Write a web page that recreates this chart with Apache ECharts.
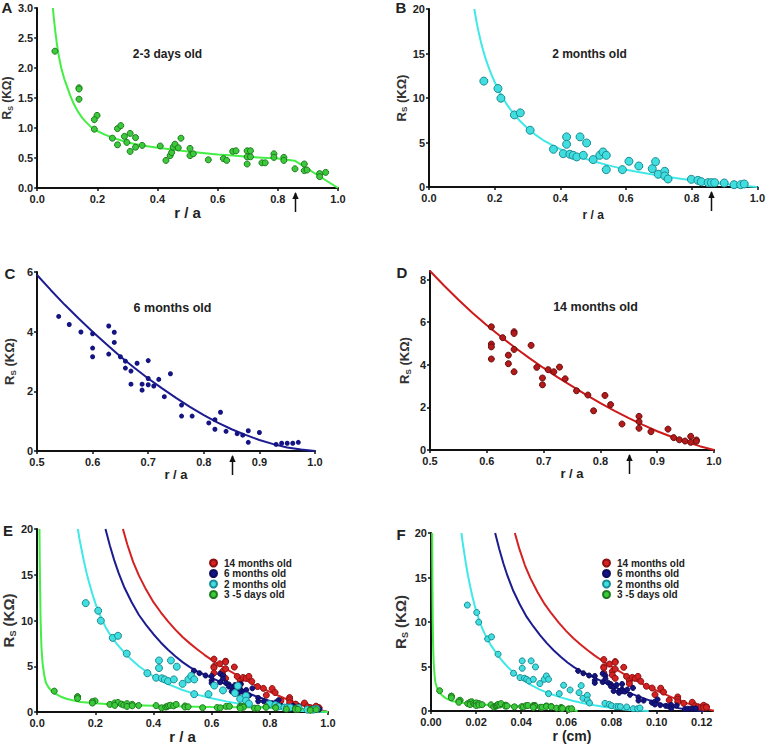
<!DOCTYPE html>
<html><head><meta charset="utf-8">
<script src="https://cdn.jsdelivr.net/npm/echarts@6.0.0/dist/echarts.min.js"></script>
<style>html,body{margin:0;padding:0;background:#fff}#c{width:768px;height:745px}</style>
</head><body><div id="c"></div>
<script>
// ---------- DATA ----------
// Panel A: 2-3 days old (r/a, Rs kOhm)
const days23Points = [[0.059,2.28],[0.139,1.67],[0.139,1.65],[0.139,1.48],[0.199,1.21],[0.19,1.14],[0.19,0.98],[0.25,0.83],[0.267,0.99],[0.278,1.04],[0.267,0.72],[0.29,0.86],[0.298,0.76],[0.309,0.91],[0.309,0.61],[0.327,0.84],[0.327,0.68],[0.349,0.71],[0.409,0.70],[0.428,0.46],[0.442,0.54],[0.447,0.59],[0.452,0.68],[0.458,0.73],[0.469,0.67],[0.478,0.83],[0.508,0.66],[0.508,0.54],[0.519,0.57],[0.569,0.47],[0.619,0.49],[0.63,0.46],[0.65,0.61],[0.661,0.62],[0.698,0.62],[0.709,0.62],[0.698,0.52],[0.709,0.52],[0.698,0.40],[0.747,0.42],[0.758,0.42],[0.787,0.57],[0.787,0.51],[0.82,0.51],[0.82,0.46],[0.857,0.32],[0.888,0.40],[0.888,0.29],[0.897,0.30],[0.939,0.24],[0.939,0.19],[0.959,0.26]];
const days23Fit = [[0.052,3.0],[0.056,2.8],[0.06,2.62],[0.065,2.42],[0.07,2.25],[0.075,2.12],[0.08,2.0],[0.09,1.82],[0.1,1.68],[0.11,1.54],[0.12,1.42],[0.13,1.32],[0.14,1.24],[0.15,1.17],[0.16,1.11],[0.18,1.01],[0.2,0.95],[0.225,0.89],[0.25,0.84],[0.275,0.8],[0.3,0.76],[0.35,0.71],[0.4,0.67],[0.45,0.64],[0.5,0.61],[0.55,0.585],[0.6,0.56],[0.65,0.54],[0.7,0.52],[0.75,0.505],[0.8,0.49],[0.856,0.455],[1.0,0.0]];
// Panel B: 2 months old
const months2Points = [[0.167,11.9],[0.21,11.07],[0.219,9.98],[0.26,8.1],[0.278,8.33],[0.308,6.38],[0.379,4.24],[0.409,3.75],[0.419,5.63],[0.419,4.8],[0.429,3.68],[0.439,3.56],[0.45,3.38],[0.46,5.63],[0.47,3.56],[0.48,4.95],[0.5,3.08],[0.52,3.56],[0.53,3.94],[0.54,3.56],[0.54,1.95],[0.589,1.95],[0.609,2.89],[0.639,2.36],[0.68,2.06],[0.69,2.85],[0.698,1.43],[0.718,1.76],[0.718,1.24],[0.728,0.9],[0.799,0.86],[0.819,0.75],[0.829,0.6],[0.85,0.49],[0.86,0.49],[0.87,0.49],[0.899,0.45],[0.929,0.26],[0.949,0.26],[0.96,0.34]];
const months2Fit = [[0.138,20],[0.144,18.7],[0.15,17.6],[0.155,16.8],[0.16,16.0],[0.17,14.7],[0.18,13.6],[0.19,12.65],[0.2,11.8],[0.21,11.0],[0.22,10.3],[0.235,9.4],[0.25,8.6],[0.275,7.5],[0.3,6.6],[0.325,5.85],[0.35,5.2],[0.375,4.7],[0.4,4.25],[0.45,3.5],[0.5,2.9],[0.55,2.4],[0.6,1.95],[0.65,1.6],[0.7,1.3],[0.75,1.0],[0.8,0.75],[0.85,0.52],[0.9,0.33],[0.95,0.15],[1.0,0]];
// Panel C: 6 months old
const months6Points = [[0.539,4.51],[0.558,4.24],[0.579,3.99],[0.6,3.93],[0.6,3.45],[0.6,3.16],[0.629,4.19],[0.629,3.25],[0.639,3.98],[0.639,3.64],[0.65,3.16],[0.659,3.01],[0.659,2.78],[0.669,2.68],[0.669,2.24],[0.68,2.94],[0.689,2.24],[0.689,2.04],[0.7,3.03],[0.7,2.43],[0.7,2.22],[0.71,2.18],[0.719,2.4],[0.729,1.82],[0.74,2.59],[0.76,1.54],[0.76,1.17],[0.779,1.17],[0.809,0.94],[0.82,1.05],[0.82,0.73],[0.83,1.3],[0.84,0.66],[0.86,0.58],[0.87,0.53],[0.88,0.68],[0.88,0.29],[0.9,0.62],[0.93,0.22],[0.94,0.26],[0.95,0.26],[0.96,0.26],[0.97,0.29]];
const months6Fit = [[0.5,5.9],[0.525,5.39],[0.55,4.9],[0.575,4.44],[0.6,4.0],[0.625,3.58],[0.65,3.17],[0.675,2.79],[0.7,2.43],[0.725,2.1],[0.75,1.78],[0.775,1.48],[0.8,1.2],[0.825,0.95],[0.85,0.73],[0.875,0.54],[0.9,0.37],[0.925,0.23],[0.95,0.12],[0.975,0.05],[1.0,0]];
// Panel D: 14 months old
const months14Points = [[0.608,5.78],[0.608,4.97],[0.608,4.84],[0.608,4.27],[0.628,5.27],[0.638,4.45],[0.638,4.05],[0.648,5.55],[0.648,5.47],[0.648,4.72],[0.648,3.67],[0.678,4.91],[0.688,3.88],[0.698,3.38],[0.698,3.06],[0.708,3.77],[0.718,3.67],[0.728,3.89],[0.738,3.34],[0.758,2.78],[0.778,2.58],[0.788,1.84],[0.808,2.56],[0.818,2.13],[0.838,1.22],[0.868,1.58],[0.868,1.33],[0.868,1.02],[0.889,0.86],[0.919,0.98],[0.929,0.58],[0.939,0.48],[0.949,0.42],[0.959,0.64],[0.959,0.36],[0.969,0.47],[0.969,0.41]];
const months14Fit = [[0.5,8.4],[0.525,7.71],[0.55,7.05],[0.575,6.43],[0.6,5.85],[0.625,5.31],[0.65,4.8],[0.675,4.31],[0.7,3.85],[0.725,3.41],[0.75,3.0],[0.775,2.59],[0.8,2.2],[0.825,1.84],[0.85,1.5],[0.875,1.18],[0.9,0.88],[0.925,0.62],[0.95,0.38],[0.975,0.18],[1.0,0]];
// Panel E: fits on a common 0-20 scale
const combDaysFit = [[0.008,20],[0.009,16.5],[0.01,14],[0.011,11.8],[0.012,10],[0.0135,8.3],[0.015,7],[0.0175,5.8],[0.02,5],[0.025,3.9],[0.03,3.2],[0.04,2.65],[0.05,2.3],[0.065,1.95],[0.08,1.7],[0.1,1.45],[0.125,1.25],[0.15,1.1],[0.2,0.95],[0.25,0.84],[0.3,0.76],[0.4,0.67],[0.5,0.61],[0.6,0.56],[0.7,0.52],[0.8,0.49],[0.856,0.455],[1.0,0]];
const comb2mFit = [[0.14,20],[0.145,19.0],[0.15,18.2],[0.155,17.4],[0.16,16.6],[0.17,15.2],[0.18,14.0],[0.19,12.9],[0.2,11.9],[0.21,11.05],[0.22,10.3],[0.235,9.3],[0.25,8.5],[0.275,7.4],[0.3,6.5],[0.325,5.7],[0.35,5.0],[0.375,4.42],[0.4,3.9],[0.45,3.05],[0.5,2.4],[0.55,1.9],[0.6,1.5],[0.65,1.16],[0.7,0.88],[0.75,0.64],[0.8,0.45],[0.85,0.28],[0.9,0.15],[0.95,0.06],[1.0,0]];
const comb6mFit = [[0.235,20],[0.25,18.2],[0.265,16.6],[0.28,15.2],[0.3,13.6],[0.325,12.0],[0.35,10.6],[0.375,9.5],[0.4,8.5],[0.425,7.6],[0.45,6.8],[0.475,6.1],[0.5,5.45],[0.525,4.9],[0.55,4.45],[0.575,4.08],[0.6,3.72],[0.65,3.0],[0.7,2.35],[0.75,1.75],[0.8,1.2],[0.85,0.72],[0.9,0.35],[0.95,0.1],[1.0,0]];
const comb14mFit = [[0.295,20],[0.31,18.3],[0.33,16.4],[0.35,14.9],[0.375,13.35],[0.4,12.0],[0.425,10.9],[0.45,9.9],[0.475,9.0],[0.5,8.2],[0.525,7.5],[0.55,6.85],[0.575,6.25],[0.6,5.7],[0.625,5.18],[0.65,4.7],[0.675,4.24],[0.7,3.8],[0.75,2.95],[0.8,2.2],[0.85,1.5],[0.9,0.88],[0.95,0.38],[1.0,0]];
// Panel F: vessel radius a (cm) per age, read from where each group ends on the r (cm) axis
const radiusDays = 0.065, radius2m = 0.0965, radius6m = 0.121, radius14m = 0.126;
// Arrow positions (r/a) under panels A-D
const arrowPos = [0.856, 0.86, 0.85, 0.85];
const legendNames = ['14 months old','6 months old','2 months old','3 -5 days old'];

// ---------- CHART ----------
const FF = '"Liberation Sans", Arial, sans-serif';
const chart = echarts.init(document.getElementById('c'), null, {renderer:'svg'});

const grids = [
  {left:37, top:8, width:301, height:180},
  {left:429, top:9, width:330, height:178},
  {left:37, top:272, width:278, height:179},
  {left:430, top:271, width:284, height:179},
  {left:36, top:529, width:292, height:183},
  {left:431, top:533, width:282, height:178}
];

function xAx(gi, min, max, interval, dec, name, gap, nsize){
  return {type:'value', gridIndex:gi, min, max, interval, name, nameLocation:'middle', nameGap:gap,
    nameTextStyle:{fontFamily:FF, fontWeight:'bold', fontSize:nsize, color:'#222'},
    axisLine:{show:true, onZero:false, lineStyle:{color:'#111', width:2}},
    axisTick:{show:true, length:3, lineStyle:{color:'#111', width:1.5}},
    axisLabel:{fontFamily:FF, fontWeight:'bold', fontSize:11, color:'#222', margin:5,
      formatter:v=>v.toFixed(dec)},
    splitLine:{show:false}};
}
function yAx(gi, min, max, interval, dec, gap, nsize){
  return {type:'value', gridIndex:gi, min, max, interval,
    name:'{r|R}{s|S}{r| (KΩ)}', nameLocation:'middle', nameGap:gap, nameRotate:90,
    nameTextStyle:{rich:{
      r:{fontFamily:FF, fontWeight:'bold', fontSize:nsize, color:'#333', lineHeight:nsize+2},
      s:{fontFamily:FF, fontWeight:'bold', fontSize:Math.round(nsize*0.6), color:'#333', verticalAlign:'bottom', lineHeight:nsize-2}}},
    axisLine:{show:true, onZero:false, lineStyle:{color:'#111', width:2}},
    axisTick:{show:true, length:3, lineStyle:{color:'#111', width:1.5}},
    axisLabel:{fontFamily:FF, fontWeight:'bold', fontSize:11, color:'#222', margin:4,
      formatter:v=>v.toFixed(dec)},
    splitLine:{show:false}};
}

const xAxes = [
  xAx(0,0,1,0.2,1,'r / a',14,15),
  xAx(1,0,1,0.2,1,'r / a',22,12),
  xAx(2,0.5,1,0.1,1,'r / a',16,13),
  xAx(3,0.5,1,0.1,1,'r / a',16,13),
  xAx(4,0,1,0.2,1,'r / a',17,15),
  xAx(5,0,0.125,0.02,2,'r (cm)',18,14)
];
xAxes[5].axisLabel.showMaxLabel = false;
const yAxes = [
  yAx(0,0,3,0.5,1,21,12),
  yAx(1,0,20,5,0,18,13),
  yAx(2,0,6,2,0,20,13),
  yAx(3,0,8.4,2,0,18,13),
  yAx(4,0,20,5,0,18,15),
  yAx(5,0,20,5,0,22,15)
];
yAxes[3].axisLabel.showMaxLabel = false;

function line(gi, data, color, name){
  return {type:'line', name:name||('fit'+gi), xAxisIndex:gi, yAxisIndex:gi, data, showSymbol:false, symbol:'none',
    smooth:false, clip:true, lineStyle:{color, width:2}, z:2, silent:true};
}
function pts(gi, data, fill, border, size, name){
  return {type:'scatter', name:name||('pts'+gi), xAxisIndex:gi, yAxisIndex:gi, data, symbolSize:size,
    itemStyle:{color:fill, borderColor:border, borderWidth:border?1:0, opacity:1}, z:3};
}
const scaleR = (arr, a) => arr.map(p => [p[0]*a, p[1]]);

const C = {
  green:'#3cc93c', greenB:'#1d7a1d', greenL:'#44ee44',
  cyan:'#40dede', cyanB:'#1b8c95', cyanL:'#40e8e8',
  navy:'#141482', navyL:'#1c1c90',
  red:'#b31a1a', redB:'#6b0c0c', redL:'#cc1a1a',
  redE:'#d42222', redEB:'#8a1010'
};

const series = [
  line(0, days23Fit, C.greenL), pts(0, days23Points, C.green, C.greenB, 6),
  line(1, months2Fit, C.cyanL), pts(1, months2Points, C.cyan, C.cyanB, 8),
  line(2, months6Fit, C.navyL), pts(2, months6Points, C.navy, null, 5),
  line(3, months14Fit, C.redL), pts(3, months14Points, C.red, C.redB, 6),
  // E
  line(4, comb14mFit, C.redE), line(4, comb6mFit, C.navyL), line(4, comb2mFit, C.cyanL), line(4, combDaysFit, C.greenL),
  pts(4, months14Points, C.redE, C.redEB, 6, legendNames[0]),
  pts(4, months6Points, C.navy, '#0c0c5a', 5, legendNames[1]),
  pts(4, months2Points, C.cyan, C.cyanB, 7, legendNames[2]),
  pts(4, days23Points, C.green, C.greenB, 6, legendNames[3]),
  // F
  line(5, scaleR(comb14mFit, radius14m), C.redE), line(5, scaleR(comb6mFit, radius6m), C.navyL),
  line(5, scaleR(comb2mFit, radius2m), C.cyanL), line(5, scaleR(combDaysFit, radiusDays), C.greenL),
  pts(5, scaleR(months14Points, radius14m), C.redE, C.redEB, 6, legendNames[0]),
  pts(5, scaleR(months6Points, radius6m), C.navy, '#0c0c5a', 5, legendNames[1]),
  pts(5, scaleR(months2Points, radius2m), C.cyan, C.cyanB, 6, legendNames[2]),
  pts(5, scaleR(days23Points, radiusDays), C.green, C.greenB, 6, legendNames[3])
];

function legend(left, top){
  return {data:legendNames, orient:'vertical', left, top, icon:'circle', itemWidth:7, itemHeight:7, itemGap:0.5,
    selectedMode:false, padding:0,
    textStyle:{fontFamily:FF, fontWeight:'bold', fontSize:10, color:'#222', lineHeight:9, padding:[0,0,0,2]}};
}

function txt(x, y, text, size){
  return {type:'text', x, y, silent:true, style:{text, fontFamily:FF, fontWeight:'bold', fontSize:size, fill:'#222', textAlign:'center', textVerticalAlign:'middle'}};
}

const option = {
  animation:false,
  backgroundColor:'#fff',
  grid:grids,
  xAxis:xAxes, yAxis:yAxes, series,
  legend:[legend(209, 558), legend(602, 558)],
  graphic:[
    txt(7,7,'A',15), txt(401,7,'B',15), txt(10,273,'C',15), txt(402,272,'D',15), txt(8,530,'E',15), txt(401,534,'F',15),
    txt(167.5,53.5,'2-3 days old',12), txt(589.5,54,'2 months old',12), txt(172.5,307.5,'6 months old',12.5), txt(595.5,307,'14 months old',12.5)
  ]
};
chart.setOption(option);

// arrows under panels A-D, positioned through the axes
const arrows = [];
arrowPos.forEach((v, gi) => {
  const p = chart.convertToPixel({gridIndex:gi}, [v, 0]);
  const x = Math.round(p[0]) + 0.5, y = p[1];
  arrows.push({type:'line', silent:true, shape:{x1:x, y1:y+5, x2:x, y2:y+24}, style:{stroke:'#111', lineWidth:1.5}});
  arrows.push({type:'polygon', silent:true, shape:{points:[[x-3.2,y+11],[x,y+4],[x+3.2,y+11]]}, style:{fill:'#111'}});
});
chart.setOption({graphic: option.graphic.concat(arrows)});
</script></body></html>
